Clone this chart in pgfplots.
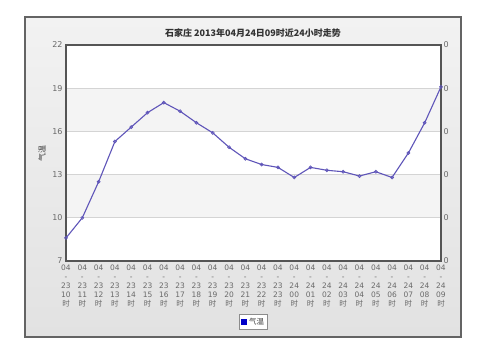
\documentclass[border=0pt]{standalone}
\usepackage{pgfplots}
\pgfplotsset{compat=1.18}
\usepackage{fontspec}
\setmainfont{DejaVu Sans}
\newfontfamily\cjk{Noto Sans CJK SC}
\definecolor{linec}{RGB}{95,85,185}
\definecolor{tickc}{RGB}{105,105,105}
\definecolor{band}{RGB}{244,244,244}
\definecolor{gridc}{RGB}{212,212,212}
\definecolor{framec}{RGB}{100,100,100}
\definecolor{axisc}{RGB}{85,85,85}
\definecolor{legc}{RGB}{0,0,200}
\newcommand\lab[2]{04\\-\\#1\\#2\\{\cjk 时}}
\begin{document}
\begin{tikzpicture}
\fill[white] (0,0) rectangle (480pt,360pt);
\shade[top color={rgb,255:red,242;green,242;blue,242}, bottom color={rgb,255:red,226;green,226;blue,226}] (25pt,23pt) rectangle (461pt,343pt);
\draw[framec, line width=1.3pt] (25pt,23pt) rectangle (461pt,343pt);
% plot area background with alternating bands
\fill[white] (66pt,99pt) rectangle (441pt,315pt);
\fill[band] (66pt,228.6pt) rectangle (441pt,271.8pt);
\fill[band] (66pt,142.2pt) rectangle (441pt,185.4pt);
\node[font=\cjk\bfseries\fontsize{9}{9}\selectfont, text={rgb,255:red,50;green,50;blue,50}] at (253pt,327pt) {石家庄 2013年04月24日09时近24小时走势};
\node[rotate=90, font=\cjk\fontsize{8}{8}\selectfont, text={rgb,255:red,60;green,60;blue,60}] at (42pt,207pt) {气温};
\begin{axis}[
  at={(66pt,99pt)}, anchor=south west,
  width=375pt, height=216pt, scale only axis,
  xmin=0, xmax=23, ymin=7, ymax=22,
  xtick={0,...,23},
  xticklabels={{\lab{23}{10}},{\lab{23}{11}},{\lab{23}{12}},{\lab{23}{13}},{\lab{23}{14}},{\lab{23}{15}},{\lab{23}{16}},{\lab{23}{17}},{\lab{23}{18}},{\lab{23}{19}},{\lab{23}{20}},{\lab{23}{21}},{\lab{23}{22}},{\lab{23}{23}},{\lab{24}{00}},{\lab{24}{01}},{\lab{24}{02}},{\lab{24}{03}},{\lab{24}{04}},{\lab{24}{05}},{\lab{24}{06}},{\lab{24}{07}},{\lab{24}{08}},{\lab{24}{09}}},
  ytick={7,10,13,16,19,22},
  ymajorgrids, grid style={gridc, line width=0.9pt},
  axis line style={axisc, line width=1.4pt},
  major tick length=0pt,
  tick label style={tickc},
  /pgf/number format/assume math mode=true,
  yticklabel style={font=\fontsize{8}{8}\selectfont, xshift=0pt},
  xticklabel style={font=\fontsize{7.5}{8.9}\selectfont, align=center, anchor=north, inner sep=1pt, yshift=-3pt},
  clip=false,
  legend style={at={(0.5,-0.282)}, anchor=center, font=\cjk\fontsize{7.5}{8}\selectfont, draw={rgb,255:red,140;green,140;blue,140}, fill=white, inner sep=1.5pt, text={rgb,255:red,60;green,60;blue,60}},
  legend image code/.code={\fill[legc] (0pt,-2.6pt) rectangle (5.2pt,2.6pt);},
]
\addplot[linec, line width=1.1pt, mark=o, mark size=1.5pt, mark options={line width=0.7pt, fill=white}] coordinates {
(0,8.6) (1,10.0) (2,12.5) (3,15.3) (4,16.3) (5,17.3) (6,18.0) (7,17.4)
(8,16.6) (9,15.9) (10,14.9) (11,14.1) (12,13.7) (13,13.5) (14,12.8) (15,13.5)
(16,13.3) (17,13.2) (18,12.9) (19,13.2) (20,12.8) (21,14.5) (22,16.6) (23,19.1)};
\addlegendentry{气温}
\end{axis}
\begin{axis}[
  at={(66pt,99pt)}, anchor=south west,
  width=375pt, height=216pt, scale only axis,
  xmin=0, xmax=23, ymin=7, ymax=22,
  axis y line*=right, axis x line*=bottom,
  axis line style={draw=none},
  xtick=\empty,
  ytick={7,10,13,16,19,22}, yticklabel={0},
  major tick length=0pt,
  tick label style={tickc},
  /pgf/number format/assume math mode=true,
  yticklabel style={font=\fontsize{8}{8}\selectfont, xshift=-1pt},
]
\addplot[draw=none, mark=none] coordinates {(0,7) (23,22)};
\end{axis}
\end{tikzpicture}
\end{document}
